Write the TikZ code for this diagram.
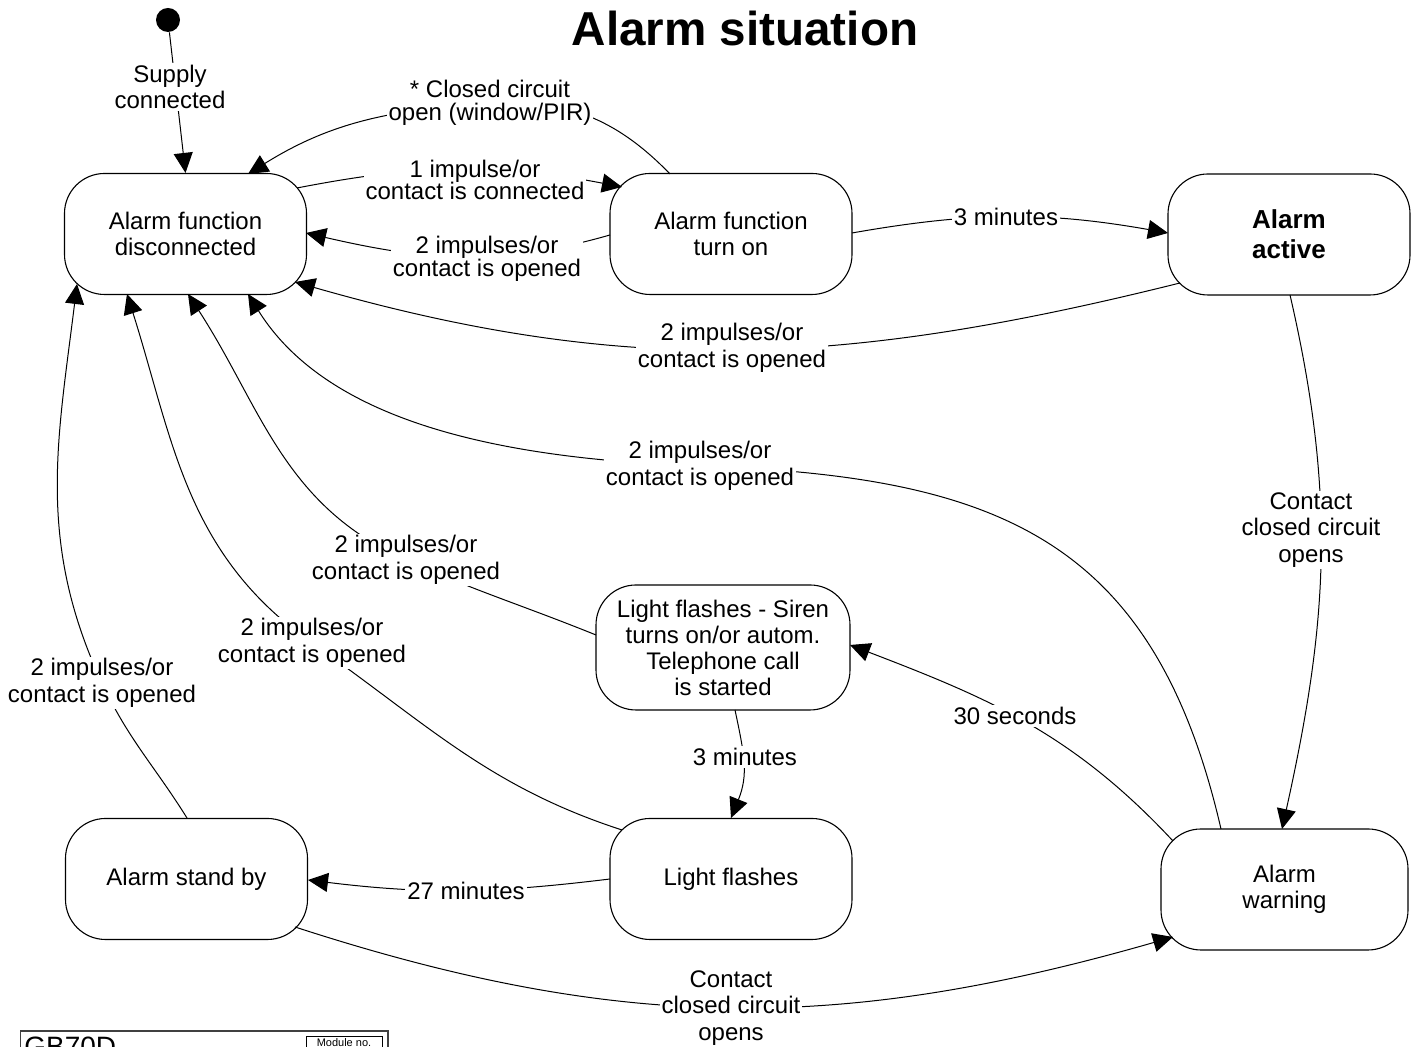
\documentclass[tikz,border=0pt]{standalone}
\usepackage{fontspec}
\setmainfont{Liberation Sans}
\usetikzlibrary{arrows.meta,calc}
\pgfdeclarelayer{edges}
\pgfsetlayers{edges,main}
\begin{document}
\begin{tikzpicture}[x=0.5pt,y=0.5pt,
  stbox/.style={draw, line width=0.55pt, rounded corners=20pt, minimum width=121pt, minimum height=60.5pt, align=center, inner sep=0pt, font=\fontsize{12}{13}\selectfont},
  lbl/.style={fill=white, inner sep=1pt, align=center, font=\fontsize{12}{13.2}\selectfont},
  tightlbl/.style={font=\fontsize{12}{11.4}\selectfont},
  conn/.style={line width=0.5pt, -{Triangle[length=10pt,width=9.5pt]}},
]
\useasboundingbox (0,0) rectangle (1414,1047);

% title
\node[anchor=base, font=\bfseries\fontsize{23.8}{28}\selectfont, inner sep=0pt] (title) at (745,1001) {Alarm situation};

% initial state
\node[circle, fill, inner sep=0pt, minimum size=12pt] (init) at (168,1027) {};

% states
\node[stbox] (dis) at (185.5,813) {Alarm function\\disconnected};
\node[stbox] (turn) at (731,813) {Alarm function\\turn on};
\node[stbox, font=\bfseries\fontsize{13}{15}\selectfont] (act) at (1289,812.5) {Alarm\\active};
\node[stbox, minimum width=127pt, minimum height=62.5pt] (siren) at (723,399.5) {Light flashes - Siren\\turns on/or autom.\\Telephone call\\is started};
\node[stbox] (stand) at (186.5,168) {Alarm stand by};
\node[stbox] (flash) at (731,168) {Light flashes};
\node[stbox, minimum width=123.5pt, minimum height=60.5pt] (warn) at (1284.5,157.5) {Alarm\\warning};

% labels
\node[lbl] (l1) at (170,960) {Supply\\connected};
\node[lbl,tightlbl] (l2) at (490,944) {* Closed circuit\\open (window/PIR)};
\node[lbl,tightlbl] (l3) at (475,867) {1 impulse/or\\contact is connected};
\node[lbl,tightlbl] (l4) at (487,788) {2 impulses/or\\contact is opened};
\node[lbl] (l5) at (1006,830) {3 minutes};
\node[lbl] (l6) at (732,699) {2 impulses/or\\contact is opened};
\node[lbl] (l7) at (700,581) {2 impulses/or\\contact is opened};
\node[lbl] (l8) at (406,487) {2 impulses/or\\contact is opened};
\node[lbl] (l9) at (312,404) {2 impulses/or\\contact is opened};
\node[lbl] (l10) at (102,364) {2 impulses/or\\contact is opened};
\node[lbl] (l11) at (1311,517) {Contact\\closed circuit\\opens};
\node[lbl] (l12) at (1015,331) {30 seconds};
\node[lbl] (l13) at (745,290) {3 minutes};
\node[lbl] (l14) at (466,156) {27 minutes};
\node[lbl] (l15) at (731,39) {Contact\\closed circuit\\opens};

% connectors
\begin{pgfonlayer}{edges}
\draw[conn] (init) -- (dis.north);
\draw[conn] ($(turn)+(-61,60)$) to[out=134,in=4] (l2.center) to[out=184,in=32] ($(dis)+(62.5,60)$);
\draw[conn] ($(dis)+(111.5,46)$) to[out=11,in=169] ($(turn)+(-109,47)$);
\draw[conn] ($(turn)+(-121,-1)$) to[out=196,in=-13] ($(dis)+(120.5,1)$);
\draw[conn] ($(turn)+(121,1)$) to[out=10,in=170] ($(act)+(-121,1.5)$);
\draw[conn] ($(act)+(-109,-48.5)$) to[out=194,in=-16] ($(dis)+(109.5,-48)$);
\draw[conn] ($(warn)+(-63.5,60.5)$) to[out=103,in=-2,looseness=1.2] (l7.center) to[out=178,in=-58,out looseness=1.06,in looseness=0.8] ($(dis)+(62.5,-60)$);
\draw[conn] ($(siren)+(-127,12.5)$) to[out=158,in=-24] (l8.center) to[out=156,in=-57] ($(dis)+(2.5,-60)$);
\draw[conn] ($(flash)+(-109,49)$) to[out=162,in=-35] (l9.center) to[out=145,in=-72.5] ($(dis)+(-58.5,-60)$);
\draw[conn] ($(stand)+(0.5,61)$) to[out=122,in=-65] (l10.center) to[out=115,in=-97] ($(dis)+(-108.5,-50)$);
\draw[conn] ($(act)+(1,-60.5)$) to[out=-77,in=77.5] ($(warn)+(-2.5,60.5)$);
\draw[conn] ($(warn)+(-111.5,48.5)$) to[out=133,in=-21] ($(siren)+(127,2.5)$);
\draw[conn] ($(siren)+(12,-62.5)$) to[out=-78,in=68,looseness=1.1] ($(flash)+(0,61)$);
\draw[conn] ($(flash)+(-121,0)$) to[out=187,in=-7] ($(stand)+(121.5,-1)$);
\draw[conn] ($(stand)+(108.5,-48)$) to[out=-18,in=196] ($(warn)+(-111.5,-47.5)$);
\end{pgfonlayer}

% title block (cut off at the bottom edge, as in the reference)
\begin{scope}
\clip (0,0) rectangle (1414,1047);
\draw[line width=0.6pt, draw=black!75] (20.5,16) rectangle (388,-30);
\draw[line width=0.5pt] (306,10.5) rectangle (382,-30);
\node[anchor=base west, font=\fontsize{14}{14}\selectfont, inner sep=0pt] (gbtxt) at (24,-10) {GB70D};
\node[anchor=base, font=\fontsize{5.5}{6}\selectfont, inner sep=0pt] (modtxt) at (344,0.5) {Module no.};
\end{scope}
\end{tikzpicture}
\end{document}
